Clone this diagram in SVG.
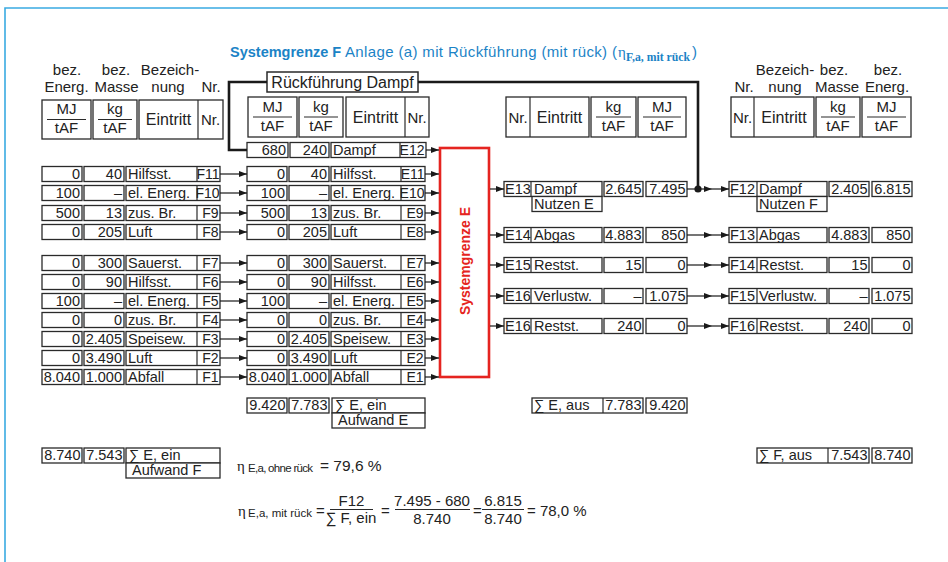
<svg xmlns="http://www.w3.org/2000/svg" width="948" height="562" viewBox="0 0 948 562">
<defs>
<style>
.bx{fill:#fff;stroke:#2a2a2a;stroke-width:1.3}
.t{font-family:"Liberation Sans",Arial,sans-serif;font-size:14.5px;fill:#222}
.n{font-size:14px}
.h{font-family:"Liberation Sans",Arial,sans-serif;font-size:15px;fill:#222}
.w{font-size:16px}
.e{text-anchor:end}
.m{text-anchor:middle}
.ln{stroke:#2a2a2a;stroke-width:1.2;fill:none}
.fb{stroke:#1a1a1a;stroke-width:2.6;fill:none}
.ar{stroke:#1a1a1a;stroke-width:1.2;fill:none;marker-end:url(#ah)}
.eta{font-family:"Liberation Serif","Times New Roman",serif;fill:#222}
.f{font-size:15px}
</style>
<marker id="ah" viewBox="0 0 8 6" refX="8" refY="3" markerWidth="8" markerHeight="6" markerUnits="userSpaceOnUse" orient="auto"><path d="M0,0L8,3L0,6z" fill="#1a1a1a"/></marker>
</defs>
<rect width="948" height="562" fill="#fff"/>
<path d="M5,562V8H948" fill="none" stroke="#3aabe2" stroke-width="1.6"/>

<g id="title">
<text x="230" y="57" font-family="Liberation Sans, Arial, sans-serif" font-size="14.5" font-weight="bold" fill="#1b83c6">Systemgrenze F</text>
<text x="345" y="57" font-family="Liberation Sans, Arial, sans-serif" font-size="15" fill="#1b83c6" textLength="272" lengthAdjust="spacing">Anlage (a) mit Rückführung (mit rück) (</text>
<text x="618" y="57" class="eta" font-size="15" style="fill:#1b83c6">η</text>
<text x="626" y="61" class="eta" font-size="11.5" font-weight="bold" style="fill:#1b83c6" textLength="64" lengthAdjust="spacingAndGlyphs">F,a, mit rück</text>
<text x="692" y="57" font-family="Liberation Sans, Arial, sans-serif" font-size="15" fill="#1b83c6">)</text>
</g>

<g id="hdr-left">
<text class="h m" x="67" y="75">bez.</text>
<text class="h m" x="116" y="75">bez.</text>
<text class="h m" x="170" y="75">Bezeich-</text>
<text class="h m" x="66.5" y="92">Energ.</text>
<text class="h m" x="116.5" y="92">Masse</text>
<text class="h m" x="168" y="92">nung</text>
<text class="h m" x="211" y="92">Nr.</text>
<rect class="bx" x="42" y="100" width="49" height="39"/>
<rect class="bx" x="93" y="100" width="44" height="39"/>
<rect class="bx" x="139" y="100" width="84" height="39"/>
<line class="ln" x1="198" y1="100" x2="198" y2="139"/>
<text class="h m" x="66.5" y="114">MJ</text>
<line class="ln" x1="47" y1="119.5" x2="86" y2="119.5"/>
<text class="h m" x="66.5" y="133">tAF</text>
<text class="h m" x="115" y="114">kg</text>
<line class="ln" x1="98" y1="119.5" x2="132" y2="119.5"/>
<text class="h m" x="115" y="133">tAF</text>
<text class="h w m" x="168.5" y="125">Eintritt</text>
<text class="h m" x="210.5" y="125">Nr.</text>
</g>

<g id="hdr-mid">
<rect class="bx" x="248" y="97" width="49" height="40"/>
<rect class="bx" x="299" y="97" width="44" height="40"/>
<rect class="bx" x="346" y="97" width="83" height="40"/>
<line class="ln" x1="405" y1="97" x2="405" y2="137"/>
<text class="h m" x="272.5" y="111.5">MJ</text>
<line class="ln" x1="253" y1="117" x2="292" y2="117"/>
<text class="h m" x="272.5" y="131">tAF</text>
<text class="h m" x="321" y="111.5">kg</text>
<line class="ln" x1="304" y1="117" x2="338" y2="117"/>
<text class="h m" x="321" y="131">tAF</text>
<text class="h w m" x="375.5" y="122.5">Eintritt</text>
<text class="h m" x="417" y="122.5">Nr.</text>
</g>

<g id="hdr-right">
<rect class="bx" x="506" y="97" width="83" height="40"/>
<line class="ln" x1="530" y1="97" x2="530" y2="137"/>
<rect class="bx" x="591" y="97" width="45" height="40"/>
<rect class="bx" x="638" y="97" width="48" height="40"/>
<text class="h m" x="518" y="122.5">Nr.</text>
<text class="h w m" x="559.5" y="122.5">Eintritt</text>
<text class="h m" x="613.5" y="111.5">kg</text>
<line class="ln" x1="596" y1="117" x2="631" y2="117"/>
<text class="h m" x="613.5" y="131">tAF</text>
<text class="h m" x="662" y="111.5">MJ</text>
<line class="ln" x1="643" y1="117" x2="681" y2="117"/>
<text class="h m" x="662" y="131">tAF</text>
</g>

<g id="hdr-farright">
<text class="h m" x="785" y="75">Bezeich-</text>
<text class="h m" x="834" y="75">bez.</text>
<text class="h m" x="888" y="75">bez.</text>
<text class="h m" x="744" y="92">Nr.</text>
<text class="h m" x="785" y="92">nung</text>
<text class="h m" x="837" y="92">Masse</text>
<text class="h m" x="887" y="92">Energ.</text>
<rect class="bx" x="731" y="97" width="83" height="40"/>
<line class="ln" x1="754" y1="97" x2="754" y2="137"/>
<rect class="bx" x="816" y="97" width="44" height="40"/>
<rect class="bx" x="862" y="97" width="49" height="40"/>
<text class="h m" x="742.5" y="122.5">Nr.</text>
<text class="h w m" x="784" y="122.5">Eintritt</text>
<text class="h m" x="838" y="111.5">kg</text>
<line class="ln" x1="821" y1="117" x2="855" y2="117"/>
<text class="h m" x="838" y="131">tAF</text>
<text class="h m" x="886.5" y="111.5">MJ</text>
<line class="ln" x1="867" y1="117" x2="906" y2="117"/>
<text class="h m" x="886.5" y="131">tAF</text>
</g>

<g id="rueckfuehrung">
<rect class="bx" x="267" y="72" width="151" height="20" style="stroke-width:1.5"/>
<text class="h w m" x="342.5" y="87.5">Rückführung Dampf</text>
</g>

<g id="E12">
<rect class="bx" x="247" y="142.5" width="41" height="15"/>
<rect class="bx" x="290" y="142.5" width="39" height="15"/>
<rect class="bx" x="331" y="142.5" width="95" height="15"/>
<line class="ln" x1="400" y1="142.5" x2="400" y2="157.5"/>
<text class="t e" x="286" y="154.5">680</text>
<text class="t e" x="327" y="154.5">240</text>
<text class="t" x="333" y="154.5">Dampf</text>
<text class="t n e" x="424.5" y="154.5">E12</text>
</g>

<!-- left F rows -->
<g id="F11"><rect class="bx" x="42" y="166.5" width="40" height="15"/><rect class="bx" x="84" y="166.5" width="40" height="15"/><rect class="bx" x="126" y="166.5" width="94" height="15"/><line class="ln" x1="197" y1="166.5" x2="197" y2="181.5"/><text class="t e" x="80" y="178.5">0</text><text class="t e" x="122" y="178.5">40</text><text class="t" x="128" y="178.5">Hilfsst.</text><text class="t n e" x="219.5" y="178.5">F11</text></g>
<g id="F10"><rect class="bx" x="42" y="185.5" width="40" height="15"/><rect class="bx" x="84" y="185.5" width="40" height="15"/><rect class="bx" x="126" y="185.5" width="94" height="15"/><line class="ln" x1="197" y1="185.5" x2="197" y2="200.5"/><text class="t e" x="80" y="197.5">100</text><text class="t e" x="122" y="197.5">–</text><text class="t" x="128" y="197.5">el. Energ.</text><text class="t n e" x="219.5" y="197.5">F10</text></g>
<g id="F9"><rect class="bx" x="42" y="205.5" width="40" height="15"/><rect class="bx" x="84" y="205.5" width="40" height="15"/><rect class="bx" x="126" y="205.5" width="94" height="15"/><line class="ln" x1="197" y1="205.5" x2="197" y2="220.5"/><text class="t e" x="80" y="217.5">500</text><text class="t e" x="122" y="217.5">13</text><text class="t" x="128" y="217.5">zus. Br.</text><text class="t n e" x="218.5" y="217.5">F9</text></g>
<g id="F8"><rect class="bx" x="42" y="224.5" width="40" height="15"/><rect class="bx" x="84" y="224.5" width="40" height="15"/><rect class="bx" x="126" y="224.5" width="94" height="15"/><line class="ln" x1="197" y1="224.5" x2="197" y2="239.5"/><text class="t e" x="80" y="236.5">0</text><text class="t e" x="122" y="236.5">205</text><text class="t" x="128" y="236.5">Luft</text><text class="t n e" x="218.5" y="236.5">F8</text></g>
<g id="F7"><rect class="bx" x="42" y="255.5" width="40" height="15"/><rect class="bx" x="84" y="255.5" width="40" height="15"/><rect class="bx" x="126" y="255.5" width="94" height="15"/><line class="ln" x1="197" y1="255.5" x2="197" y2="270.5"/><text class="t e" x="80" y="267.5">0</text><text class="t e" x="122" y="267.5">300</text><text class="t" x="128" y="267.5">Sauerst.</text><text class="t n e" x="218.5" y="267.5">F7</text></g>
<g id="F6"><rect class="bx" x="42" y="274.5" width="40" height="15"/><rect class="bx" x="84" y="274.5" width="40" height="15"/><rect class="bx" x="126" y="274.5" width="94" height="15"/><line class="ln" x1="197" y1="274.5" x2="197" y2="289.5"/><text class="t e" x="80" y="286.5">0</text><text class="t e" x="122" y="286.5">90</text><text class="t" x="128" y="286.5">Hilfsst.</text><text class="t n e" x="218.5" y="286.5">F6</text></g>
<g id="F5"><rect class="bx" x="42" y="293.5" width="40" height="15"/><rect class="bx" x="84" y="293.5" width="40" height="15"/><rect class="bx" x="126" y="293.5" width="94" height="15"/><line class="ln" x1="197" y1="293.5" x2="197" y2="308.5"/><text class="t e" x="80" y="305.5">100</text><text class="t e" x="122" y="305.5">–</text><text class="t" x="128" y="305.5">el. Energ.</text><text class="t n e" x="218.5" y="305.5">F5</text></g>
<g id="F4"><rect class="bx" x="42" y="312.5" width="40" height="15"/><rect class="bx" x="84" y="312.5" width="40" height="15"/><rect class="bx" x="126" y="312.5" width="94" height="15"/><line class="ln" x1="197" y1="312.5" x2="197" y2="327.5"/><text class="t e" x="80" y="324.5">0</text><text class="t e" x="122" y="324.5">0</text><text class="t" x="128" y="324.5">zus. Br.</text><text class="t n e" x="218.5" y="324.5">F4</text></g>
<g id="F3"><rect class="bx" x="42" y="331.5" width="40" height="15"/><rect class="bx" x="84" y="331.5" width="40" height="15"/><rect class="bx" x="126" y="331.5" width="94" height="15"/><line class="ln" x1="197" y1="331.5" x2="197" y2="346.5"/><text class="t e" x="80" y="343.5">0</text><text class="t e" x="122" y="343.5">2.405</text><text class="t" x="128" y="343.5">Speisew.</text><text class="t n e" x="218.5" y="343.5">F3</text></g>
<g id="F2"><rect class="bx" x="42" y="350.5" width="40" height="15"/><rect class="bx" x="84" y="350.5" width="40" height="15"/><rect class="bx" x="126" y="350.5" width="94" height="15"/><line class="ln" x1="197" y1="350.5" x2="197" y2="365.5"/><text class="t e" x="80" y="362.5">0</text><text class="t e" x="122" y="362.5">3.490</text><text class="t" x="128" y="362.5">Luft</text><text class="t n e" x="218.5" y="362.5">F2</text></g>
<g id="F1"><rect class="bx" x="42" y="369.5" width="40" height="15"/><rect class="bx" x="84" y="369.5" width="40" height="15"/><rect class="bx" x="126" y="369.5" width="94" height="15"/><line class="ln" x1="197" y1="369.5" x2="197" y2="384.5"/><text class="t e" x="80" y="381.5">8.040</text><text class="t e" x="122" y="381.5">1.000</text><text class="t" x="128" y="381.5">Abfall</text><text class="t n e" x="218.5" y="381.5">F1</text></g>

<!-- middle E rows -->
<g id="E11"><rect class="bx" x="247" y="166.5" width="40" height="15"/><rect class="bx" x="289" y="166.5" width="40" height="15"/><rect class="bx" x="331" y="166.5" width="94" height="15"/><line class="ln" x1="401" y1="166.5" x2="401" y2="181.5"/><text class="t e" x="285" y="178.5">0</text><text class="t e" x="327" y="178.5">40</text><text class="t" x="333" y="178.5">Hilfsst.</text><text class="t n e" x="424.5" y="178.5">E11</text></g>
<g id="E10"><rect class="bx" x="247" y="185.5" width="40" height="15"/><rect class="bx" x="289" y="185.5" width="40" height="15"/><rect class="bx" x="331" y="185.5" width="94" height="15"/><line class="ln" x1="401" y1="185.5" x2="401" y2="200.5"/><text class="t e" x="285" y="197.5">100</text><text class="t e" x="327" y="197.5">–</text><text class="t" x="333" y="197.5">el. Energ.</text><text class="t n e" x="424.5" y="197.5">E10</text></g>
<g id="E9"><rect class="bx" x="247" y="205.5" width="40" height="15"/><rect class="bx" x="289" y="205.5" width="40" height="15"/><rect class="bx" x="331" y="205.5" width="94" height="15"/><line class="ln" x1="401" y1="205.5" x2="401" y2="220.5"/><text class="t e" x="285" y="217.5">500</text><text class="t e" x="327" y="217.5">13</text><text class="t" x="333" y="217.5">zus. Br.</text><text class="t n e" x="423.5" y="217.5">E9</text></g>
<g id="E8"><rect class="bx" x="247" y="224.5" width="40" height="15"/><rect class="bx" x="289" y="224.5" width="40" height="15"/><rect class="bx" x="331" y="224.5" width="94" height="15"/><line class="ln" x1="401" y1="224.5" x2="401" y2="239.5"/><text class="t e" x="285" y="236.5">0</text><text class="t e" x="327" y="236.5">205</text><text class="t" x="333" y="236.5">Luft</text><text class="t n e" x="423.5" y="236.5">E8</text></g>
<g id="E7"><rect class="bx" x="247" y="255.5" width="40" height="15"/><rect class="bx" x="289" y="255.5" width="40" height="15"/><rect class="bx" x="331" y="255.5" width="94" height="15"/><line class="ln" x1="401" y1="255.5" x2="401" y2="270.5"/><text class="t e" x="285" y="267.5">0</text><text class="t e" x="327" y="267.5">300</text><text class="t" x="333" y="267.5">Sauerst.</text><text class="t n e" x="423.5" y="267.5">E7</text></g>
<g id="E6"><rect class="bx" x="247" y="274.5" width="40" height="15"/><rect class="bx" x="289" y="274.5" width="40" height="15"/><rect class="bx" x="331" y="274.5" width="94" height="15"/><line class="ln" x1="401" y1="274.5" x2="401" y2="289.5"/><text class="t e" x="285" y="286.5">0</text><text class="t e" x="327" y="286.5">90</text><text class="t" x="333" y="286.5">Hilfsst.</text><text class="t n e" x="423.5" y="286.5">E6</text></g>
<g id="E5"><rect class="bx" x="247" y="293.5" width="40" height="15"/><rect class="bx" x="289" y="293.5" width="40" height="15"/><rect class="bx" x="331" y="293.5" width="94" height="15"/><line class="ln" x1="401" y1="293.5" x2="401" y2="308.5"/><text class="t e" x="285" y="305.5">100</text><text class="t e" x="327" y="305.5">–</text><text class="t" x="333" y="305.5">el. Energ.</text><text class="t n e" x="423.5" y="305.5">E5</text></g>
<g id="E4"><rect class="bx" x="247" y="312.5" width="40" height="15"/><rect class="bx" x="289" y="312.5" width="40" height="15"/><rect class="bx" x="331" y="312.5" width="94" height="15"/><line class="ln" x1="401" y1="312.5" x2="401" y2="327.5"/><text class="t e" x="285" y="324.5">0</text><text class="t e" x="327" y="324.5">0</text><text class="t" x="333" y="324.5">zus. Br.</text><text class="t n e" x="423.5" y="324.5">E4</text></g>
<g id="E3"><rect class="bx" x="247" y="331.5" width="40" height="15"/><rect class="bx" x="289" y="331.5" width="40" height="15"/><rect class="bx" x="331" y="331.5" width="94" height="15"/><line class="ln" x1="401" y1="331.5" x2="401" y2="346.5"/><text class="t e" x="285" y="343.5">0</text><text class="t e" x="327" y="343.5">2.405</text><text class="t" x="333" y="343.5">Speisew.</text><text class="t n e" x="423.5" y="343.5">E3</text></g>
<g id="E2"><rect class="bx" x="247" y="350.5" width="40" height="15"/><rect class="bx" x="289" y="350.5" width="40" height="15"/><rect class="bx" x="331" y="350.5" width="94" height="15"/><line class="ln" x1="401" y1="350.5" x2="401" y2="365.5"/><text class="t e" x="285" y="362.5">0</text><text class="t e" x="327" y="362.5">3.490</text><text class="t" x="333" y="362.5">Luft</text><text class="t n e" x="423.5" y="362.5">E2</text></g>
<g id="E1"><rect class="bx" x="247" y="369.5" width="40" height="15"/><rect class="bx" x="289" y="369.5" width="40" height="15"/><rect class="bx" x="331" y="369.5" width="94" height="15"/><line class="ln" x1="401" y1="369.5" x2="401" y2="384.5"/><text class="t e" x="285" y="381.5">8.040</text><text class="t e" x="327" y="381.5">1.000</text><text class="t" x="333" y="381.5">Abfall</text><text class="t n e" x="423.5" y="381.5">E1</text></g>

<g id="systemgrenze-E">
<rect x="440" y="148" width="49" height="229" fill="#fff" stroke="#e52420" stroke-width="2.6"/>
<text transform="translate(469.5,261) rotate(-90)" text-anchor="middle" font-family="Liberation Sans, Arial, sans-serif" font-size="14" font-weight="bold" fill="#e52420">Systemgrenze E</text>
</g>

<!-- right E rows -->
<g id="E13"><rect class="bx" x="504" y="181.5" width="98" height="15"/><line class="ln" x1="531" y1="181.5" x2="531" y2="196.5"/><rect class="bx" x="604" y="181.5" width="39" height="15"/><rect class="bx" x="646" y="181.5" width="41" height="15"/><rect class="bx" x="532" y="196.5" width="70" height="15"/><text class="t" x="505" y="193.5">E13</text><text class="t" x="534" y="193.5">Dampf</text><text class="t e" x="641.5" y="193.5">2.645</text><text class="t e" x="685.5" y="193.5">7.495</text><text class="t" x="534" y="208.5">Nutzen E</text></g>
<g id="E14"><rect class="bx" x="504" y="227.5" width="98" height="15"/><line class="ln" x1="531" y1="227.5" x2="531" y2="242.5"/><rect class="bx" x="604" y="227.5" width="39" height="15"/><rect class="bx" x="646" y="227.5" width="41" height="15"/><text class="t" x="505" y="239.5">E14</text><text class="t" x="534" y="239.5">Abgas</text><text class="t e" x="641.5" y="239.5">4.883</text><text class="t e" x="685.5" y="239.5">850</text></g>
<g id="E15"><rect class="bx" x="504" y="257.5" width="98" height="15"/><line class="ln" x1="531" y1="257.5" x2="531" y2="272.5"/><rect class="bx" x="604" y="257.5" width="39" height="15"/><rect class="bx" x="646" y="257.5" width="41" height="15"/><text class="t" x="505" y="269.5">E15</text><text class="t" x="534" y="269.5">Restst.</text><text class="t e" x="641.5" y="269.5">15</text><text class="t e" x="685.5" y="269.5">0</text></g>
<g id="E16a"><rect class="bx" x="504" y="288.5" width="98" height="15"/><line class="ln" x1="531" y1="288.5" x2="531" y2="303.5"/><rect class="bx" x="604" y="288.5" width="39" height="15"/><rect class="bx" x="646" y="288.5" width="41" height="15"/><text class="t" x="505" y="300.5">E16</text><text class="t" x="534" y="300.5">Verlustw.</text><text class="t e" x="641.5" y="300.5">–</text><text class="t e" x="685.5" y="300.5">1.075</text></g>
<g id="E16b"><rect class="bx" x="504" y="318.5" width="98" height="15"/><line class="ln" x1="531" y1="318.5" x2="531" y2="333.5"/><rect class="bx" x="604" y="318.5" width="39" height="15"/><rect class="bx" x="646" y="318.5" width="41" height="15"/><text class="t" x="505" y="330.5">E16</text><text class="t" x="534" y="330.5">Restst.</text><text class="t e" x="641.5" y="330.5">240</text><text class="t e" x="685.5" y="330.5">0</text></g>

<!-- far right F rows -->
<g id="F12"><rect class="bx" x="729" y="181.5" width="98" height="15"/><line class="ln" x1="757" y1="181.5" x2="757" y2="196.5"/><rect class="bx" x="829" y="181.5" width="40" height="15"/><rect class="bx" x="872" y="181.5" width="40" height="15"/><rect class="bx" x="757" y="196.5" width="70" height="15"/><text class="t" x="730" y="193.5">F12</text><text class="t" x="759" y="193.5">Dampf</text><text class="t e" x="867.5" y="193.5">2.405</text><text class="t e" x="910.5" y="193.5">6.815</text><text class="t" x="759" y="208.5">Nutzen F</text></g>
<g id="F13"><rect class="bx" x="729" y="227.5" width="98" height="15"/><line class="ln" x1="757" y1="227.5" x2="757" y2="242.5"/><rect class="bx" x="829" y="227.5" width="40" height="15"/><rect class="bx" x="872" y="227.5" width="40" height="15"/><text class="t" x="730" y="239.5">F13</text><text class="t" x="759" y="239.5">Abgas</text><text class="t e" x="867.5" y="239.5">4.883</text><text class="t e" x="910.5" y="239.5">850</text></g>
<g id="F14"><rect class="bx" x="729" y="257.5" width="98" height="15"/><line class="ln" x1="757" y1="257.5" x2="757" y2="272.5"/><rect class="bx" x="829" y="257.5" width="40" height="15"/><rect class="bx" x="872" y="257.5" width="40" height="15"/><text class="t" x="730" y="269.5">F14</text><text class="t" x="759" y="269.5">Restst.</text><text class="t e" x="867.5" y="269.5">15</text><text class="t e" x="910.5" y="269.5">0</text></g>
<g id="F15"><rect class="bx" x="729" y="288.5" width="98" height="15"/><line class="ln" x1="757" y1="288.5" x2="757" y2="303.5"/><rect class="bx" x="829" y="288.5" width="40" height="15"/><rect class="bx" x="872" y="288.5" width="40" height="15"/><text class="t" x="730" y="300.5">F15</text><text class="t" x="759" y="300.5">Verlustw.</text><text class="t e" x="867.5" y="300.5">–</text><text class="t e" x="910.5" y="300.5">1.075</text></g>
<g id="F16"><rect class="bx" x="729" y="318.5" width="98" height="15"/><line class="ln" x1="757" y1="318.5" x2="757" y2="333.5"/><rect class="bx" x="829" y="318.5" width="40" height="15"/><rect class="bx" x="872" y="318.5" width="40" height="15"/><text class="t" x="730" y="330.5">F16</text><text class="t" x="759" y="330.5">Restst.</text><text class="t e" x="867.5" y="330.5">240</text><text class="t e" x="910.5" y="330.5">0</text></g>

<!-- sums -->
<g id="sum-E-ein"><rect class="bx" x="247" y="398" width="40" height="15"/><rect class="bx" x="289" y="398" width="40" height="15"/><rect class="bx" x="332" y="398" width="93" height="15"/><rect class="bx" x="332" y="413" width="93" height="15"/><text class="t e" x="285.5" y="410">9.420</text><text class="t e" x="327.5" y="410">7.783</text><text class="t" x="335" y="410">∑ E, ein</text><text class="t" x="338" y="425">Aufwand E</text></g>
<g id="sum-E-aus"><rect class="bx" x="532" y="398" width="111" height="15"/><line class="ln" x1="603" y1="398" x2="603" y2="413"/><rect class="bx" x="646" y="398" width="41" height="15"/><text class="t" x="534" y="410">∑ E, aus</text><text class="t e" x="641.5" y="410">7.783</text><text class="t e" x="685.5" y="410">9.420</text></g>
<g id="sum-F-ein"><rect class="bx" x="42" y="448" width="40" height="15"/><rect class="bx" x="84" y="448" width="40" height="15"/><rect class="bx" x="126" y="448" width="94" height="15"/><rect class="bx" x="126" y="463" width="94" height="15"/><text class="t e" x="80.5" y="460">8.740</text><text class="t e" x="122.5" y="460">7.543</text><text class="t" x="129" y="460">∑ E, ein</text><text class="t" x="132" y="475">Aufwand F</text></g>
<g id="sum-F-aus"><rect class="bx" x="757" y="448" width="112" height="15"/><line class="ln" x1="828" y1="448" x2="828" y2="463"/><rect class="bx" x="872" y="448" width="40" height="15"/><text class="t" x="759" y="460">∑ F, aus</text><text class="t e" x="867.5" y="460">7.543</text><text class="t e" x="910.5" y="460">8.740</text></g>

<!-- efficiencies -->
<g id="eta-ohne">
<text class="eta" x="237" y="471" font-size="15">η</text>
<text class="t" x="248" y="472" style="font-size:11.5px" textLength="65" lengthAdjust="spacing">E,a, ohne rück</text>
<text class="t" x="320" y="471" style="font-size:15.5px">= 79,6 %</text>
</g>
<g id="eta-mit">
<text class="eta" x="238" y="516" font-size="15">η</text>
<text class="t" x="248" y="517" style="font-size:11.5px" textLength="64" lengthAdjust="spacing">E,a, mit rück</text>
<text class="t f" x="316" y="516">=</text>
<text class="t f m" x="351.5" y="506">F12</text>
<line class="ln" x1="330" y1="509.5" x2="373" y2="509.5"/>
<text class="t f m" x="351" y="523">∑ F, ein</text>
<text class="t f" x="381" y="516">=</text>
<text class="t f m" x="432" y="506">7.495 - 680</text>
<line class="ln" x1="395" y1="509.5" x2="470" y2="509.5"/>
<text class="t f m" x="432" y="524">8.740</text>
<text class="t f" x="473" y="516">=</text>
<text class="t f m" x="503" y="506">6.815</text>
<line class="ln" x1="482" y1="509.5" x2="524" y2="509.5"/>
<text class="t f m" x="503" y="524">8.740</text>
<text class="t f" x="527" y="516">= 78,0 %</text>
</g>

<g id="connectors">
<polyline class="fb" points="418,82 698,82 698,189"/>
<polyline class="fb" points="267,82 229,82 229,150 247,150"/>
<circle cx="698" cy="189" r="3.6" fill="#1a1a1a"/>
<line class="ar" x1="426" y1="150" x2="439" y2="150"/>
<line class="ar" x1="220" y1="174" x2="247" y2="174"/>
<line class="ar" x1="220" y1="193" x2="247" y2="193"/>
<line class="ar" x1="220" y1="213" x2="247" y2="213"/>
<line class="ar" x1="220" y1="232" x2="247" y2="232"/>
<line class="ar" x1="220" y1="263" x2="247" y2="263"/>
<line class="ar" x1="220" y1="282" x2="247" y2="282"/>
<line class="ar" x1="220" y1="301" x2="247" y2="301"/>
<line class="ar" x1="220" y1="320" x2="247" y2="320"/>
<line class="ar" x1="220" y1="339" x2="247" y2="339"/>
<line class="ar" x1="220" y1="358" x2="247" y2="358"/>
<line class="ar" x1="220" y1="377" x2="247" y2="377"/>
<line class="ar" x1="425" y1="174" x2="439" y2="174"/>
<line class="ar" x1="425" y1="193" x2="439" y2="193"/>
<line class="ar" x1="425" y1="213" x2="439" y2="213"/>
<line class="ar" x1="425" y1="232" x2="439" y2="232"/>
<line class="ar" x1="425" y1="263" x2="439" y2="263"/>
<line class="ar" x1="425" y1="282" x2="439" y2="282"/>
<line class="ar" x1="425" y1="301" x2="439" y2="301"/>
<line class="ar" x1="425" y1="320" x2="439" y2="320"/>
<line class="ar" x1="425" y1="339" x2="439" y2="339"/>
<line class="ar" x1="425" y1="358" x2="439" y2="358"/>
<line class="ar" x1="425" y1="377" x2="439" y2="377"/>
<line class="ar" x1="490" y1="189" x2="504" y2="189"/>
<line class="ar" x1="490" y1="235" x2="504" y2="235"/>
<line class="ar" x1="490" y1="265" x2="504" y2="265"/>
<line class="ar" x1="490" y1="296" x2="504" y2="296"/>
<line class="ar" x1="490" y1="326" x2="504" y2="326"/>
<line class="ar" x1="687" y1="189" x2="712" y2="189"/><line class="ar" x1="712" y1="189" x2="729" y2="189"/>
<line class="ar" x1="687" y1="235" x2="712" y2="235"/><line class="ar" x1="712" y1="235" x2="729" y2="235"/>
<line class="ar" x1="687" y1="265" x2="712" y2="265"/><line class="ar" x1="712" y1="265" x2="729" y2="265"/>
<line class="ar" x1="687" y1="296" x2="712" y2="296"/><line class="ar" x1="712" y1="296" x2="729" y2="296"/>
<line class="ar" x1="687" y1="326" x2="712" y2="326"/><line class="ar" x1="712" y1="326" x2="729" y2="326"/>
</g>
</svg>
